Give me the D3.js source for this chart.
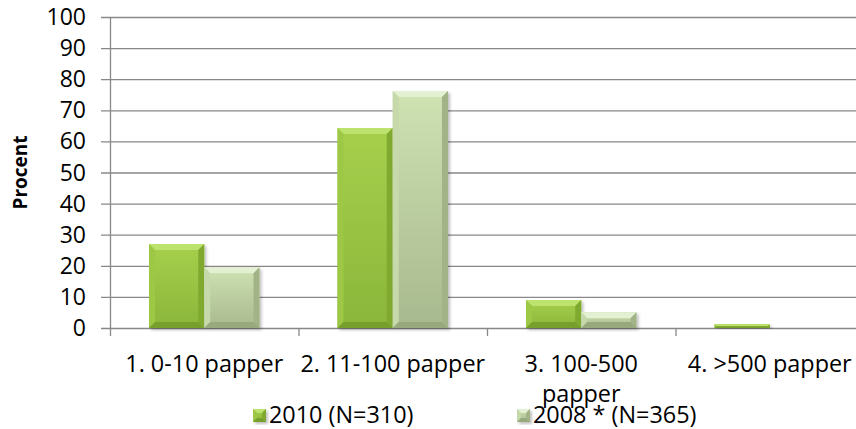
<!DOCTYPE html>
<meta charset="UTF-8">
<script src="https://cdnjs.cloudflare.com/ajax/libs/d3/7.4.4/d3.min.js"></script>
<style>
    body { margin: 0; background: #fff; }
    text { font-family: "Open Sans", sans-serif; fill: #000; }
</style>
<svg id="chart" width="856" height="429"></svg>
<script>
    // data
    let categories = ["1. 0-10 papper", "2. 11-100 papper", "3. 100-500 papper", "4. >500 papper"];
    let series = ["2010 (N=310)", "2008 * (N=365)"];
    let values2010 = [27, 64.3, 9, 1.2];
    let values2008 = [19.5, 76.2, 5.1, 0];
    let yTicks = [0, 10, 20, 30, 40, 50, 60, 70, 80, 90, 100];

    let svg = d3.select("svg"),
        width = +svg.attr("width"),
        height = +svg.attr("height");

    let plotLeft = 110, plotTop = 17, plotBottom = 328, plotRight = 110 + 4 * 188.5;

    let x = d3.scaleBand().domain(categories).range([plotLeft, plotRight]);
    let xs = d3.scaleBand().domain(series).range([39, 188.5 - 39]);
    let y = d3.scaleLinear().domain([0, 100]).range([plotBottom, plotTop]);

    // bar colours: [body top, body bottom, bevel top, bevel left, bevel right, bevel bottom]
    let palette = {
        "2010 (N=310)": ["#a6d04c", "#8ab63a", "#bde26e", "#9dc846", "#7fa92f", "#779f2c"],
        "2008 * (N=365)": ["#cfe2b2", "#a7b98e", "#e4f0d2", "#c6d9aa", "#a1b387", "#98a97e"]
    };

    let defs = svg.append("defs");
    series.forEach(function (s, i) {
        let g = defs.append("linearGradient").attr("id", "grad" + i)
            .attr("x1", 0).attr("y1", 0).attr("x2", 0).attr("y2", 1);
        g.append("stop").attr("offset", "0%").attr("stop-color", palette[s][0]);
        g.append("stop").attr("offset", "100%").attr("stop-color", palette[s][1]);
    });
    defs.append("filter").attr("id", "shadow")
        .attr("x", "-10%").attr("y", "-10%").attr("width", "130%").attr("height", "130%")
        .append("feDropShadow")
        .attr("dx", 2).attr("dy", 2).attr("stdDeviation", 1.5)
        .attr("flood-color", "#000").attr("flood-opacity", 0.25);

    // gridlines with tick stubs to the left
    svg.append("g")
        .selectAll("line")
        .data(yTicks)
        .enter().append("line")
        .attr("x1", plotLeft - 9).attr("x2", width)
        .attr("y1", d => y(d) + 0.5).attr("y2", d => y(d) + 0.5)
        .style("stroke", "#888").style("stroke-width", 1.3);

    svg.append("line")
        .attr("x1", plotLeft + 0.5).attr("x2", plotLeft + 0.5)
        .attr("y1", plotTop).attr("y2", plotBottom + 8)
        .style("stroke", "#888").style("stroke-width", 1.3);

    // x category boundary ticks
    svg.append("g")
        .selectAll("line")
        .data(categories)
        .enter().append("line")
        .attr("x1", d => x(d) + x.bandwidth() + 0.5).attr("x2", d => x(d) + x.bandwidth() + 0.5)
        .attr("y1", plotBottom).attr("y2", plotBottom + 8)
        .style("stroke", "#888").style("stroke-width", 1.3);

    // y tick labels
    svg.append("g")
        .selectAll("text")
        .data(yTicks)
        .enter().append("text")
        .attr("x", plotLeft - 24)
        .attr("y", d => y(d) + 8)
        .style("text-anchor", "end")
        .style("font-size", "23px")
        .text(d => d);

    svg.append("text")
        .attr("transform", "translate(27," + ((plotTop + plotBottom) / 2) + ") rotate(-90)")
        .style("text-anchor", "middle")
        .style("font-size", "19px")
        .style("font-weight", "bold")
        .text("Procent");

    // bevelled bars
    function bevelBar(g, bx, by, bw, bh, cols, gradId, bev) {
        let b = Math.min(bev, bh / 2, bw / 2);
        g.append("rect").attr("x", bx).attr("y", by).attr("width", bw).attr("height", bh)
            .style("fill", "url(#" + gradId + ")").style("filter", "url(#shadow)");
        let pts = function (p) { return p.map(q => q.join(",")).join(" "); };
        g.append("polygon").attr("points", pts([[bx, by], [bx + bw, by], [bx + bw - b, by + b], [bx + b, by + b]]))
            .style("fill", cols[2]);
        g.append("polygon").attr("points", pts([[bx, by], [bx + b, by + b], [bx + b, by + bh - b], [bx, by + bh]]))
            .style("fill", cols[3]);
        g.append("polygon").attr("points", pts([[bx + bw, by], [bx + bw, by + bh], [bx + bw - b, by + bh - b], [bx + bw - b, by + b]]))
            .style("fill", cols[4]);
        g.append("polygon").attr("points", pts([[bx, by + bh], [bx + b, by + bh - b], [bx + bw - b, by + bh - b], [bx + bw, by + bh]]))
            .style("fill", cols[5]);
    }

    let bars = svg.append("g");
    [values2010, values2008].forEach(function (vals, si) {
        let s = series[si];
        vals.forEach(function (v, ci) {
            if (v <= 0) return;
            let c = categories[ci];
            bevelBar(bars, x(c) + xs(s), y(v), xs.bandwidth(), y(0) - y(v), palette[s], "grad" + si, 6);
        });
    });

    // category labels, wrapped to the band
    let labels = svg.append("g")
        .selectAll("text")
        .data(categories)
        .enter().append("text")
        .attr("x", d => x(d) + x.bandwidth() / 2)
        .attr("y", 372)
        .style("text-anchor", "middle")
        .style("font-size", "23.4px");
    labels.each(function (d) {
        let t = d3.select(this);
        let words = d.split(" ");
        let line = [];
        let span = t.append("tspan").attr("x", t.attr("x")).attr("dy", 0);
        words.forEach(function (w) {
            line.push(w);
            span.text(line.join(" "));
            if (span.node().getComputedTextLength() > x.bandwidth() - 2 && line.length > 1) {
                line.pop();
                span.text(line.join(" "));
                line = [w];
                span = t.append("tspan").attr("x", t.attr("x")).attr("dy", 30).text(w);
            }
        });
    });

    // legend
    let legendX = [253, 517];
    let legend = svg.append("g")
        .selectAll("g")
        .data(series)
        .enter().append("g")
        .attr("transform", (d, i) => "translate(" + legendX[i] + ",409)");
    legend.each(function (d, i) {
        let g = d3.select(this);
        let lg = g.append("g");
        bevelBar(lg, 0, 0, 13, 13, palette[d], "grad" + i, 4);
        g.append("text").attr("x", 16).attr("y", 14)
            .style("font-size", "23.4px")
            .text(d);
    });
</script>
